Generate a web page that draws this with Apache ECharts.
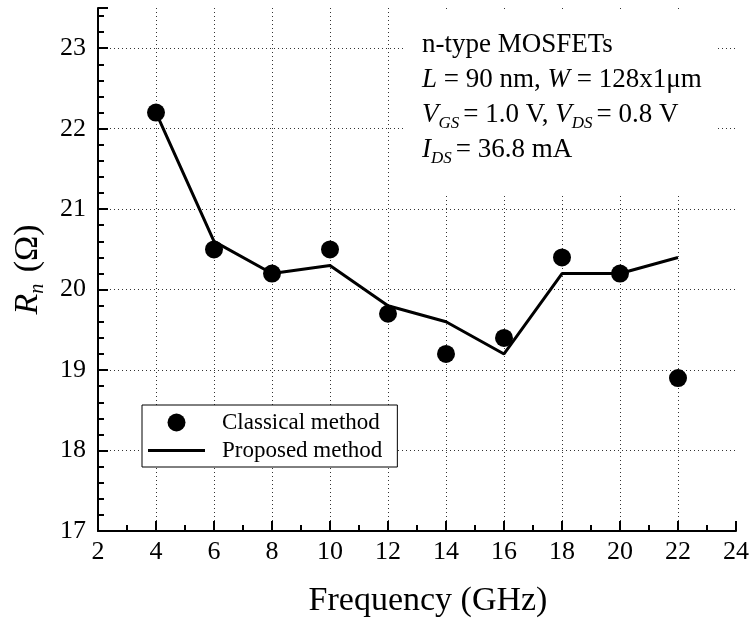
<!DOCTYPE html>
<html>
<head>
<meta charset="utf-8">
<script src="https://cdn.jsdelivr.net/npm/echarts@6/dist/echarts.min.js"></script>
<style>
  html, body { margin: 0; padding: 0; background: #fff; }
  #chart { width: 752px; height: 626px; }
</style>
</head>
<body>
<div id="chart"></div>
<script>
// frequency points (GHz)
var freq = [4, 6, 8, 10, 12, 14, 16, 18, 20, 22];
// Rn from the classical method (dots)
var classical = [22.2, 20.5, 20.2, 20.5, 19.7, 19.2, 19.4, 20.4, 20.2, 18.9];
// Rn from the proposed method (line)
var proposed = [22.2, 20.6, 20.2, 20.3, 19.8, 19.6, 19.2, 20.2, 20.2, 20.4];
var xTicks = [2, 24, 2];      // min, max, step
var yTicks = [17, 23.5, 1];   // min, max, step

var serif = '"Liberation Serif", "Times New Roman", serif';
var grid = '#333';
var none = 'rgba(0,0,0,0)';

function pairs(xs, ys) {
  return xs.map(function (x, i) { return [x, ys[i]]; });
}

// dotted grid on every major tick, except the one at the far end of the axis
function gridColors(t) {
  var n = Math.ceil((t[1] - t[0]) / t[2]) + 1;
  var c = [];
  for (var i = 0; i < n - 1; i++) c.push(grid);
  c.push(none);
  return c;
}

var chart = echarts.init(document.getElementById('chart'));

var option = {
  backgroundColor: '#fff',
  animation: false,
  grid: { left: 98, right: 15, top: 8, bottom: 95 },
  legend: {
    left: 142, top: 405,
    orient: 'vertical',
    backgroundColor: '#fff',
    borderColor: '#000',
    borderWidth: 1,
    borderRadius: 0,
    padding: [6, 15, 5, 6],
    itemGap: 5,
    itemWidth: 57,
    itemHeight: 18,
    textStyle: { fontFamily: serif, fontSize: 23, color: '#000', padding: [0, 0, 0, 12] },
    data: [
      { name: 'Classical method', icon: 'circle' },
      { name: 'Proposed method', icon: 'path://M0,0 H19 V1 H0 Z' }
    ],
    z: 10
  },
  xAxis: {
    type: 'value',
    min: xTicks[0], max: xTicks[1], interval: xTicks[2],
    name: 'Frequency (GHz)',
    nameLocation: 'middle',
    nameGap: 53,
    nameTextStyle: { fontFamily: serif, fontSize: 34, color: '#000', padding: [0, 0, 0, 22] },
    axisLine: { lineStyle: { color: '#000', width: 2 } },
    axisTick: { inside: true, length: 10, lineStyle: { color: '#000', width: 2 } },
    minorTick: { show: true, splitNumber: 2, length: 6, lineStyle: { color: '#000', width: 2 } },
    axisLabel: { fontFamily: serif, fontSize: 26, color: '#000', margin: 8 },
    splitLine: { show: true, lineStyle: { color: gridColors(xTicks), width: 1, type: [1, 3] } }
  },
  yAxis: {
    type: 'value',
    min: yTicks[0], max: yTicks[1], interval: yTicks[2],
    name: '{i|R}{s|n} (Ω)',
    nameLocation: 'middle',
    nameGap: 50,
    nameTextStyle: {
      fontFamily: serif, fontSize: 34, color: '#000', lineHeight: 40,
      rich: {
        i: { fontFamily: serif, fontSize: 34, fontStyle: 'italic', color: '#000', lineHeight: 40 },
        s: { fontFamily: serif, fontSize: 20, fontStyle: 'italic', color: '#000', lineHeight: 14, verticalAlign: 'bottom', padding: [0, 3, 0, 0] }
      }
    },
    axisLine: { lineStyle: { color: '#000', width: 2 } },
    axisTick: { inside: true, length: 10, lineStyle: { color: '#000', width: 2 } },
    minorTick: { show: true, splitNumber: 5, length: 6, lineStyle: { color: '#000', width: 2 } },
    axisLabel: {
      fontFamily: serif, fontSize: 26, color: '#000', margin: 12,
      formatter: function (v) { return Number.isInteger(v) ? String(v) : ''; }
    },
    splitLine: { show: true, lineStyle: { color: gridColors(yTicks), width: 1, type: [1, 3] } }
  },
  graphic: [
    {
      type: 'rect',
      left: 404, top: 11, z: 5,
      shape: { width: 312, height: 182 },
      style: { fill: '#fff' }
    },
    {
      type: 'text',
      left: 422, top: 27, z: 6,
      style: {
        text: 'n-type MOSFETs\n{i|L} = 90 nm, {i|W} = 128x1μm\n{i|V}{s|GS}= 1.0 V, {i|V}{s|DS}= 0.8 V\n{i|I}{s|DS}= 36.8 mA',
        fontFamily: serif, fontSize: 27, fill: '#000', lineHeight: 35,
        rich: {
          i: { fontFamily: serif, fontSize: 27, fontStyle: 'italic', fill: '#000', lineHeight: 35 },
          s: { fontFamily: serif, fontSize: 17, fontStyle: 'italic', fill: '#000', lineHeight: 9, verticalAlign: 'bottom', padding: [0, 4, 0, 0] }
        }
      }
    }
  ],
  series: [
    {
      name: 'Proposed method',
      type: 'line',
      data: pairs(freq, proposed),
      symbol: 'none',
      lineStyle: { color: '#000', width: 3 },
      itemStyle: { color: '#000' },
      z: 3
    },
    {
      name: 'Classical method',
      type: 'scatter',
      data: pairs(freq, classical),
      symbol: 'circle',
      symbolSize: 18,
      itemStyle: { color: '#000', opacity: 1 },
      z: 4
    }
  ]
};

chart.setOption(option);
</script>
</body>
</html>
